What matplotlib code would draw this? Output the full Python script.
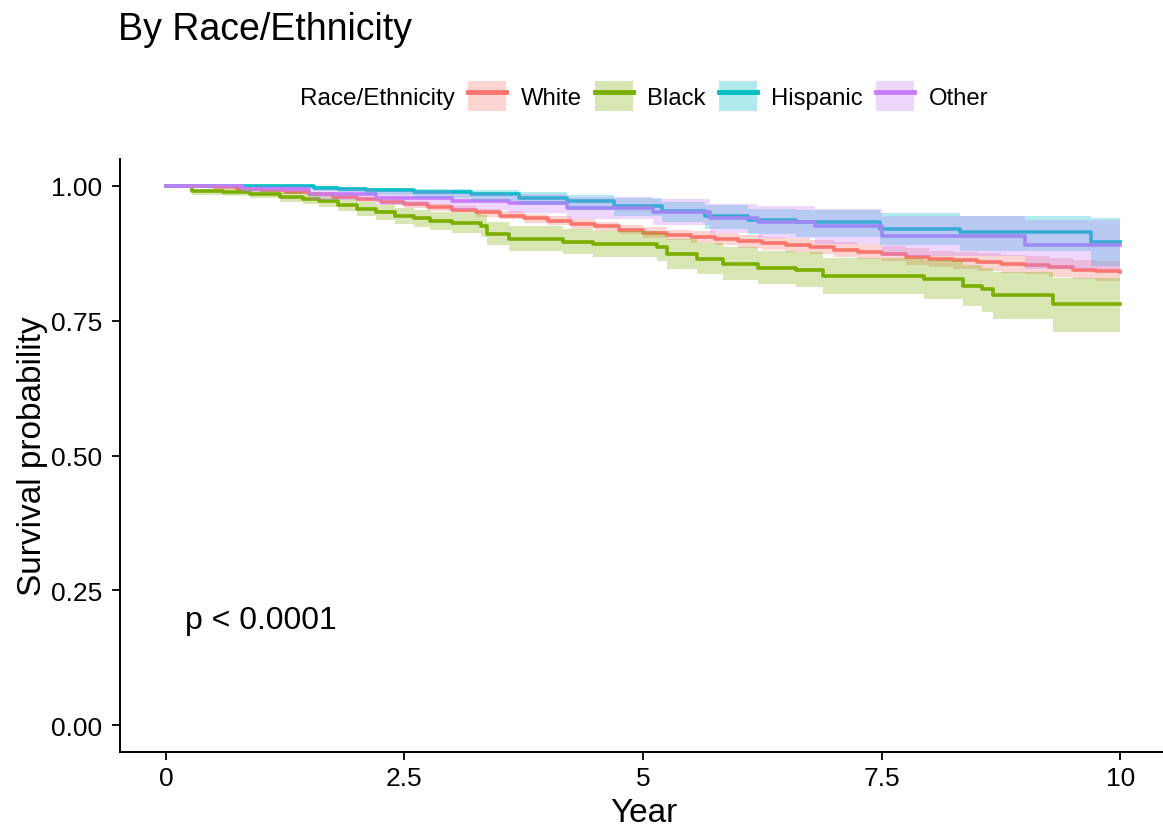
import matplotlib
matplotlib.use("Agg")
import matplotlib.pyplot as plt
from matplotlib.patches import Patch
from matplotlib.lines import Line2D

plt.rcParams["font.family"] = ["Liberation Sans", "DejaVu Sans"]

GROUPS = ["White", "Black", "Hispanic", "Other"]
COLORS = ["#F8766D", "#7CAE00", "#00BFC4", "#C77CFF"]

white_t = [0, 0.25, 0.5, 0.75, 1.0, 1.25, 1.5, 1.75, 2.0, 2.25, 2.5, 2.75, 3.0,
           3.25, 3.5, 3.75, 4.0, 4.25, 4.5, 4.75, 5.0, 5.25, 5.5, 5.75, 6.0,
           6.25, 6.5, 6.75, 7.0, 7.25, 7.5, 7.75, 8.0, 8.25, 8.5, 8.75, 9.0,
           9.25, 9.5, 9.75, 10.0]
white_s = [1.0, .999, .998, .995, .992, .989, .985, .980, .975, .971, .966, .961,
           .956, .951, .945, .940, .935, .930, .925, .919, .913, .909, .905, .901,
           .897, .894, .890, .886, .882, .878, .874, .869, .865, .862, .859, .856,
           .853, .849, .845, .842, .840]
white_lo = [1.0, .998, .996, .992, .989, .985, .981, .975, .970, .965, .960, .954,
            .949, .943, .938, .932, .927, .921, .916, .910, .903, .899, .894, .890,
            .885, .882, .877, .873, .868, .864, .860, .854, .850, .846, .843, .839,
            .836, .831, .827, .823, .821]
white_hi = [1.0, 1.0, .999, .997, .995, .992, .989, .984, .980, .976, .972, .967,
            .963, .958, .953, .948, .944, .939, .934, .928, .923, .919, .916, .912,
            .909, .906, .903, .899, .896, .892, .889, .884, .880, .878, .875, .872,
            .870, .866, .863, .860, .859]

black_t = [0, 0.27, 0.6, 0.88, 1.2, 1.44, 1.6, 1.8, 2.0, 2.2, 2.4, 2.6, 2.77, 3.0,
           3.3, 3.36, 3.6, 4.16, 4.48, 5.15, 5.25, 5.57, 5.84, 6.2, 6.6, 6.89,
           7.94, 8.35, 8.55, 8.67, 9.29]
black_s = [1.0, 0.99, 0.988, 0.985, 0.98, 0.976, 0.972, 0.965, 0.957, 0.951, 0.945,
           0.94, 0.935, 0.931, 0.926, 0.911, 0.902, 0.896, 0.892, 0.887, 0.874,
           0.865, 0.855, 0.848, 0.844, 0.833, 0.827, 0.815, 0.808, 0.798, 0.781]
black_lo = [1.0, 0.984, 0.981, 0.977, 0.971, 0.966, 0.961, 0.953, 0.944, 0.937,
            0.930, 0.924, 0.918, 0.913, 0.906, 0.890, 0.880, 0.873, 0.868, 0.861,
            0.846, 0.836, 0.825, 0.818, 0.812, 0.800, 0.790, 0.777, 0.766, 0.753,
            0.729]
black_hi = [1.0, 0.995, 0.994, 0.992, 0.988, 0.985, 0.982, 0.976, 0.970, 0.965,
            0.960, 0.956, 0.952, 0.949, 0.946, 0.933, 0.925, 0.920, 0.917, 0.913,
            0.902, 0.895, 0.886, 0.880, 0.877, 0.867, 0.862, 0.853, 0.848, 0.840,
            0.830]

hisp_t = [0, 1.55, 1.8, 2.1, 2.6, 3.2, 3.7, 4.2, 4.7, 5.2, 5.65, 6.1, 6.6, 7.48,
          8.32, 9.69]
hisp_s = [1.0, 0.997, 0.995, 0.992, 0.988, 0.985, 0.978, 0.972, 0.963, 0.954,
          0.944, 0.936, 0.933, 0.92, 0.915, 0.896]
hisp_lo = [1.0, 0.991, 0.988, 0.984, 0.978, 0.973, 0.964, 0.956, 0.945, 0.934,
           0.921, 0.910, 0.905, 0.890, 0.880, 0.852]
hisp_hi = [1.0, 0.999, 0.998, 0.997, 0.995, 0.993, 0.988, 0.984, 0.978, 0.970,
           0.965, 0.958, 0.956, 0.950, 0.945, 0.940]

other_t = [0, 0.8, 1.5, 2.2, 3.0, 3.6, 4.2, 5.1, 5.7, 6.2, 6.8, 7.5, 9.0]
other_s = [1.0, 0.995, 0.985, 0.978, 0.972, 0.968, 0.960, 0.952, 0.940, 0.933,
           0.925, 0.907, 0.890]
other_lo = [1.0, 0.988, 0.974, 0.965, 0.956, 0.950, 0.939, 0.928, 0.913, 0.903,
            0.892, 0.870, 0.846]
other_hi = [1.0, 0.999, 0.994, 0.990, 0.987, 0.985, 0.980, 0.975, 0.966, 0.962,
            0.957, 0.945, 0.937]

END_T = 10.0

series = [
    (white_t, white_s, white_lo, white_hi),
    (black_t, black_s, black_lo, black_hi),
    (hisp_t, hisp_s, hisp_lo, hisp_hi),
    (other_t, other_s, other_lo, other_hi),
]

fig = plt.figure(figsize=(11.63, 8.28), dpi=100)
ax = fig.add_axes([120 / 1163, 75 / 828, 1048 / 1163, 593 / 828])

# lines first, ribbons on top (ggplot layer order)
for (t, s, lo, hi), c in zip(series, COLORS):
    ax.step(t + [END_T], s + [s[-1]], where="post", color=c, lw=2.6, zorder=2)
for (t, s, lo, hi), c in zip(series, COLORS):
    ax.fill_between(t + [END_T], lo + [lo[-1]], hi + [hi[-1]], step="post",
                    color=c, alpha=0.3, lw=0, zorder=3)

ax.set_xlim(-0.48, 10.5)
ax.set_ylim(-0.05, 1.05)
ax.set_xticks([0, 2.5, 5, 7.5, 10])
ax.set_xticklabels(["0", "2.5", "5", "7.5", "10"])
ax.set_yticks([0, 0.25, 0.5, 0.75, 1.0])
ax.set_yticklabels(["0.00", "0.25", "0.50", "0.75", "1.00"])
ax.tick_params(labelsize=19, length=6, width=1.3, colors="black",
               direction="out")
ax.tick_params(axis="x", pad=4)
ax.tick_params(axis="y", pad=7)
for side in ["top", "right"]:
    ax.spines[side].set_visible(False)
for side in ["left", "bottom"]:
    ax.spines[side].set_linewidth(1.4)
ax.set_xlabel("Year", fontsize=24, labelpad=5)
ax.set_ylabel("Survival probability", fontsize=24, labelpad=2)

ax.text(0.2, 0.195, "p < 0.0001", fontsize=23, va="center", ha="left")

fig.text(118 / 1163, 1 - 30 / 828, "By Race/Ethnicity", fontsize=27,
         va="center", ha="left")
fig.text(300 / 1163, 1 - 99 / 828, "Race/Ethnicity", fontsize=17.5,
         va="center", ha="left")

handles = [(Patch(facecolor=c, alpha=0.3, lw=0), Line2D([], [], color=c, lw=3.5))
           for c in COLORS]
fig.legend(handles, GROUPS, loc="center left",
           bbox_to_anchor=(468 / 1163, 1 - 97 / 828), ncol=4, frameon=False,
           fontsize=17.2, handlelength=1.6, handleheight=1.6, handletextpad=0.6,
           columnspacing=0.55, borderpad=0, borderaxespad=0)

fig.savefig("out.png", dpi=100)
